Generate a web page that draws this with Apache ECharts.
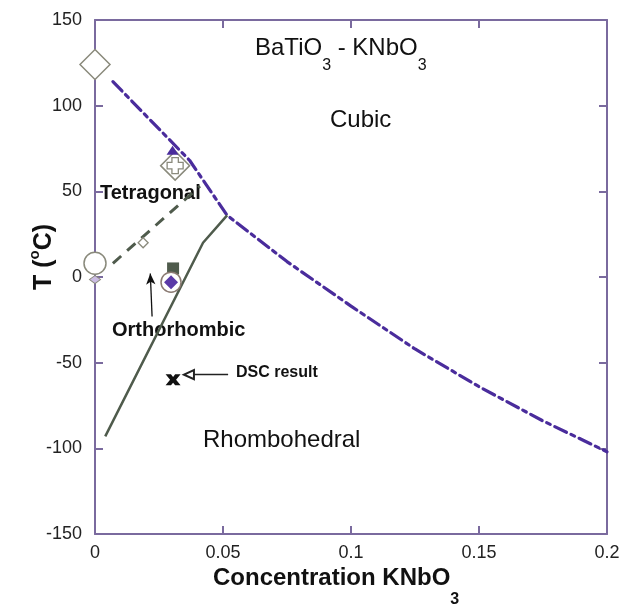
<!DOCTYPE html>
<html>
<head>
<meta charset="utf-8">
<title>BaTiO3 - KNbO3 phase diagram</title>
<script src="https://cdn.jsdelivr.net/npm/echarts@6.0.0/dist/echarts.min.js"></script>
<style>
  html, body { margin: 0; padding: 0; background: #fff; }
  #chart { width: 626px; height: 605px; }
</style>
</head>
<body>
<div id="chart"></div>
<script>
// Phase boundaries: [KNbO3 fraction, T in °C]
const cubicBoundary = [[0.007, 114], [0.037, 68], [0.0516, 36], [0.075, 9], [0.1, -17], [0.125, -42], [0.15, -64], [0.175, -84], [0.2, -102]];
const tetragonalBoundary = [[0.007, 8], [0.041, 53]];
const rhombohedralBoundary = [[0.004, -93], [0.0422, 20], [0.0516, 36]];

// Measured transition points
const bigOpenDiamond = [[0, 124]];
const plusDiamond = [[0.0313, 65]];
const smallBlueTriangle = [[0.0303, 74]];
const openCircleLeft = [[0, 8]];
const smallLilacDiamond = [[0, -1.5]];
const smallOpenDiamond = [[0.0188, 20]];
const filledSquare = [[0.0305, 5]];
const openCircleMid = [[0.0297, -3]];
const filledDiamond = [[0.0297, -3]];
const dscPoint = [[0.0305, -60]];

// Annotation arrows: [from, to]
const orthoArrow = [[0.0223, -23], [0.0216, 2]];
const dscArrow = [[0.052, -57], [0.0367, -57]];

// Axis ranges and tick steps
const xRange = [0, 0.2], xStep = 0.05;
const yRange = [-150, 150], yStep = 50;

const axisColor = '#7a6a9e';
const blue = '#4a2c9c';
const green = '#4f5b4c';
const gray = '#8a8a7c';
const fontFamily = '"Liberation Sans", Arial, Helvetica, sans-serif';

const chart = echarts.init(document.getElementById('chart'), null, { renderer: 'canvas' });

function axisBase(extra) {
  return Object.assign({
    type: 'value', z: 0,
    axisLine: { show: true, onZero: false, lineStyle: { color: axisColor, width: 2 } },
    axisTick: { show: true, inside: true, length: 8, lineStyle: { color: axisColor, width: 2 } },
    splitLine: { show: false },
    axisLabel: { show: false }
  }, extra);
}

const labelStyle = { show: true, color: '#222', fontSize: 18, fontFamily: fontFamily };

// Opaque point markers drawn above the frame and boundary lines
function markerSeries(data, symbol, size, style, z) {
  return {
    type: 'scatter', data: data, symbol: symbol, symbolSize: size,
    itemStyle: Object.assign({ opacity: 1 }, style), z: z || 10, silent: true, clip: false
  };
}

function arrowLine(pts, endSymbol, endSize, color) {
  return {
    type: 'line', data: [], silent: true, z: 12,
    markLine: {
      silent: true, animation: false,
      symbol: ['none', endSymbol], symbolSize: endSize,
      lineStyle: { color: color, width: 1.3, type: 'solid', opacity: 1 },
      label: { show: false },
      emphasis: { disabled: true },
      data: [[{ coord: pts[0] }, { coord: pts[1] }]]
    }
  };
}

const option = {
  animation: false,
  backgroundColor: '#fff',
  grid: { left: 95, right: 19, top: 20, bottom: 71, containLabel: false, outerBoundsMode: 'none' },
  xAxis: [
    axisBase({ min: xRange[0], max: xRange[1], interval: xStep, position: 'bottom',
      axisLabel: Object.assign({}, labelStyle, { margin: 10 }) }),
    axisBase({ min: xRange[0], max: xRange[1], interval: xStep, position: 'top' })
  ],
  yAxis: [
    axisBase({ min: yRange[0], max: yRange[1], interval: yStep, position: 'left',
      axisLabel: Object.assign({}, labelStyle, { margin: 13 }) }),
    axisBase({ min: yRange[0], max: yRange[1], interval: yStep, position: 'right' })
  ],
  series: [
    {
      type: 'line', data: cubicBoundary, showSymbol: false, silent: true, z: 8,
      lineStyle: { color: blue, width: 3.2, type: [13, 5, 4, 5], cap: 'round' }
    },
    {
      type: 'line', data: tetragonalBoundary, showSymbol: false, silent: true, z: 8,
      lineStyle: { color: green, width: 3, type: [11, 8] }
    },
    {
      type: 'line', data: rhombohedralBoundary, showSymbol: false, silent: true, z: 8,
      lineStyle: { color: green, width: 2.5, type: 'solid' }
    },
    markerSeries(bigOpenDiamond, 'diamond', 30, { color: '#fff', borderColor: gray, borderWidth: 1.5 }),
    markerSeries(plusDiamond, 'diamond', 29, { color: '#fff', borderColor: gray, borderWidth: 1.5 }),
    markerSeries(plusDiamond, 'path://M3,0 H7 V3 H10 V7 H7 V10 H3 V7 H0 V3 H3 Z', 16, { color: '#fff', borderColor: gray, borderWidth: 1.3 }, 11),
    markerSeries(smallBlueTriangle, 'triangle', [12, 9], { color: blue }, 11),
    markerSeries(openCircleLeft, 'circle', 22, { color: '#fff', borderColor: gray, borderWidth: 1.5 }),
    markerSeries(smallLilacDiamond, 'diamond', [11, 8], { color: '#cbbce4', borderColor: gray, borderWidth: 1 }, 11),
    markerSeries(smallOpenDiamond, 'diamond', 10, { color: '#fff', borderColor: gray, borderWidth: 1.3 }),
    markerSeries(filledSquare, 'rect', 12, { color: green }),
    markerSeries(openCircleMid, 'circle', 20, { color: '#fff', borderColor: '#8a7a72', borderWidth: 1.5 }),
    markerSeries(filledDiamond, 'diamond', 14, { color: '#5b3aa8' }, 11),
    markerSeries(dscPoint, 'path://M0,0 L3.6,0 L5,2.4 L6.4,0 L10,0 L7,5 L10,10 L6.4,10 L5,7.6 L3.6,10 L0,10 L3,5 Z', [15, 11], { color: '#111' }),
    arrowLine(orthoArrow, 'arrow', [7, 11], '#111'),
    arrowLine(dscArrow, 'emptyTriangle', [9, 10], '#222')
  ],
  graphic: [
    {
      type: 'text', x: 255, y: 36, silent: true,
      style: {
        text: '{n|BaTiO}{s|3}{n| - KNbO}{s|3}',
        rich: {
          n: { fontSize: 24, fontFamily: fontFamily, fill: '#111', verticalAlign: 'top' },
          s: { fontSize: 16, fontFamily: fontFamily, fill: '#111', verticalAlign: 'bottom', padding: [22, 0, 0, 0] }
        }
      }
    },
    {
      type: 'text', x: 330, y: 120, silent: true,
      style: { text: 'Cubic', font: '24px ' + fontFamily, fill: '#111', verticalAlign: 'middle' }
    },
    {
      type: 'text', x: 100, y: 193, silent: true,
      style: { text: 'Tetragonal', font: 'bold 20px ' + fontFamily, fill: '#111', verticalAlign: 'middle' }
    },
    {
      type: 'text', x: 112, y: 330, silent: true,
      style: { text: 'Orthorhombic', font: 'bold 20px ' + fontFamily, fill: '#111', verticalAlign: 'middle' }
    },
    {
      type: 'text', x: 236, y: 373, silent: true,
      style: { text: 'DSC result', font: 'bold 16px ' + fontFamily, fill: '#111', verticalAlign: 'middle' }
    },
    {
      type: 'text', x: 203, y: 440, silent: true,
      style: { text: 'Rhombohedral', font: '24px ' + fontFamily, fill: '#111', verticalAlign: 'middle' }
    },
    {
      type: 'text', x: 213, y: 566, silent: true,
      style: {
        text: '{n|Concentration KNbO}{s|3}',
        rich: {
          n: { fontSize: 24, fontWeight: 'bold', fontFamily: fontFamily, fill: '#111', verticalAlign: 'top' },
          s: { fontSize: 16, fontWeight: 'bold', fontFamily: fontFamily, fill: '#111', verticalAlign: 'bottom', padding: [26, 0, 0, 0] }
        }
      }
    },
    {
      type: 'text', x: 42, y: 257, rotation: Math.PI / 2, silent: true,
      style: {
        text: '{n|T (}{p|o}{n|C)}',
        align: 'center', verticalAlign: 'middle',
        rich: {
          n: { fontSize: 25, fontWeight: 'bold', fontFamily: fontFamily, fill: '#111', verticalAlign: 'bottom' },
          p: { fontSize: 15, fontWeight: 'bold', fontFamily: fontFamily, fill: '#111', verticalAlign: 'top', padding: [0, 0, 14, 0] }
        }
      }
    }
  ]
};

chart.setOption(option);
</script>
</body>
</html>
